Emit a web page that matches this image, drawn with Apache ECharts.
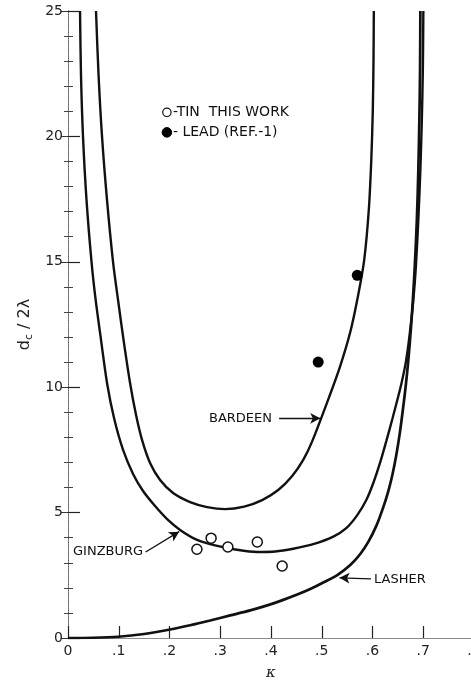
<!DOCTYPE html>
<html>
<head>
<meta charset="utf-8">
<script src="https://cdn.jsdelivr.net/npm/echarts@6/dist/echarts.min.js"></script>
<style>
html,body{margin:0;padding:0;background:#fff;}
#c{width:471px;height:682px;}
</style>
</head>
<body>
<div id="c"></div>
<script>
// ---- data (kappa, d_c/2lambda) ----
const xTicks = [0, 0.1, 0.2, 0.3, 0.4, 0.5, 0.6, 0.7, 0.8];
const yTicks = [0, 5, 10, 15, 20, 25];

const ginzburgK = [0.0237, 0.0256, 0.0296, 0.0365, 0.0464, 0.0545, 0.0651, 0.0769, 0.0907, 0.1085, 0.1282, 0.1479, 0.1716, 0.1953, 0.2209, 0.2544, 0.2899, 0.3294, 0.3728, 0.4083, 0.4438, 0.4832, 0.5227, 0.5483, 0.5700, 0.5878, 0.6016, 0.6154, 0.6272, 0.6391, 0.6489, 0.6568, 0.6647, 0.6706, 0.6765, 0.6805, 0.6854, 0.6903, 0.6943, 0.6972, 0.6992, 0.7002];
const ginzburgD = [25.0, 22.45, 19.98, 17.46, 14.99, 13.48, 11.88, 10.17, 8.77, 7.50, 6.54, 5.86, 5.26, 4.74, 4.31, 3.91, 3.69, 3.53, 3.43, 3.45, 3.56, 3.74, 4.04, 4.38, 4.90, 5.50, 6.18, 7.02, 7.85, 8.73, 9.49, 10.13, 10.89, 11.68, 12.68, 13.48, 14.79, 16.67, 18.66, 20.65, 22.65, 25.0];

const bardeenK = [0.0552, 0.0602, 0.0671, 0.0769, 0.0888, 0.0986, 0.1095, 0.1223, 0.1341, 0.1460, 0.1617, 0.1815, 0.2071, 0.2406, 0.2742, 0.3097, 0.3471, 0.3826, 0.4142, 0.4418, 0.4635, 0.4813, 0.5168, 0.5365, 0.5562, 0.5720, 0.5838, 0.5927, 0.5976, 0.6006, 0.6020, 0.6026];
const bardeenD = [25.0, 22.45, 19.98, 17.46, 14.99, 13.48, 11.88, 10.17, 8.89, 7.89, 6.98, 6.30, 5.78, 5.42, 5.22, 5.14, 5.24, 5.50, 5.90, 6.46, 7.10, 7.85, 9.73, 10.85, 12.20, 13.70, 15.10, 17.07, 19.06, 21.05, 23.05, 25.0];

const lasherK = [0, 0.0493, 0.0986, 0.1499, 0.2012, 0.2406, 0.2801, 0.3195, 0.3590, 0.3925, 0.4241, 0.4517, 0.4773, 0.5049, 0.5306, 0.5562, 0.5759, 0.5917, 0.6075, 0.6213, 0.6312, 0.6391, 0.6469, 0.6538, 0.6598, 0.6657, 0.6706, 0.6755, 0.6795, 0.6834, 0.6874, 0.6903, 0.6923, 0.6937, 0.6943];
const lasherD = [0, 0.01, 0.05, 0.16, 0.34, 0.51, 0.70, 0.90, 1.10, 1.30, 1.52, 1.73, 1.95, 2.23, 2.51, 2.91, 3.35, 3.83, 4.47, 5.22, 5.86, 6.50, 7.30, 8.17, 9.09, 10.09, 11.08, 12.28, 13.48, 14.87, 16.67, 18.66, 20.65, 22.65, 25.0];

const tinK = [0.254, 0.282, 0.315, 0.373, 0.422];
const tinD = [3.54, 3.98, 3.63, 3.83, 2.87];

const leadK = [0.493, 0.570];
const leadD = [11.0, 14.46];

const curveLabels = ['BARDEEN', 'GINZBURG', 'LASHER'];
const legendLabels = ['-TIN  THIS WORK', '- LEAD (REF.-1)'];

const zip = (a, b) => a.map((v, i) => [v, b[i]]);

const FONT = 'DejaVu Sans';
const chart = echarts.init(document.getElementById('c'), null, {renderer: 'canvas'});

const lineStyleC = {color: '#111', width: 2.4};

function arrowLine(from, to) {
  return {
    silent: true,
    symbol: ['none', 'arrow'],
    symbolSize: [8, 10],
    lineStyle: {color: '#111', width: 1.3, type: 'solid'},
    label: {show: false},
    emphasis: {disabled: true},
    data: [[{coord: from}, {coord: to}]]
  };
}

const option = {
  backgroundColor: '#fff',
  animation: false,
  grid: {left: 68, top: 11, width: 406, height: 627, containLabel: false, outerBoundsMode: 'none'},
  xAxis: [{
    type: 'value', min: 0, max: 0.8, interval: 0.1,
    name: 'κ', nameLocation: 'middle', nameGap: 28,
    nameTextStyle: {fontFamily: 'DejaVu Serif', fontStyle: 'italic', fontSize: 15, color: '#222'},
    axisLine: {show: true, lineStyle: {color: '#666', width: 1, type: 'dotted'}},
    axisTick: {show: true, inside: true, length: 12, lineStyle: {color: '#222', width: 1.2}},
    axisLabel: {fontFamily: FONT, fontSize: 14, color: '#222', margin: 6,
      formatter: v => v === 0 ? '0' : '.' + Math.round(v * 10)},
    splitLine: {show: false}
  }, {
    type: 'value', min: 0, max: 0.8, interval: 0.1, position: 'top',
    axisLine: {show: true, lineStyle: {color: '#888', width: 1, type: 'dotted'}},
    axisTick: {show: false}, axisLabel: {show: false}, splitLine: {show: false}
  }],
  yAxis: [{
    type: 'value', min: 0, max: 25, interval: 5,
    name: '{a|d}{s|c}{a| / 2λ}', nameLocation: 'middle', nameGap: 33,
    nameTextStyle: {fontFamily: FONT, fontSize: 16, color: '#222',
      rich: {a: {fontFamily: FONT, fontSize: 16, color: '#222'},
             s: {fontFamily: FONT, fontSize: 11, color: '#222', verticalAlign: 'bottom', padding: [7, 0, 0, 0]}}},
    axisLine: {show: true, lineStyle: {color: '#222', width: 1}},
    axisTick: {show: true, inside: true, length: 12, lineStyle: {color: '#222', width: 1.2}},
    minorTick: {show: true, splitNumber: 5, length: 5, lineStyle: {color: '#444', width: 1}},
    axisLabel: {fontFamily: FONT, fontSize: 14, color: '#222', margin: 5},
    splitLine: {show: false}
  }, {
    type: 'value', min: 0, max: 25, interval: 5, position: 'right',
    axisLine: {show: true, lineStyle: {color: '#888', width: 1, type: 'dotted'}},
    axisTick: {show: true, inside: true, length: 7, lineStyle: {color: '#333', width: 1}},
    minorTick: {show: true, splitNumber: 5, length: 4, lineStyle: {color: '#444', width: 1}},
    axisLabel: {show: false}, splitLine: {show: false}
  }],
  series: [
    {name: 'BARDEEN', type: 'line', data: zip(bardeenK, bardeenD), smooth: 0.3,
     showSymbol: false, symbol: 'none', lineStyle: lineStyleC, clip: true,
     markLine: arrowLine([0.416, 8.76], [0.497, 8.76])},
    {name: 'GINZBURG', type: 'line', data: zip(ginzburgK, ginzburgD), smooth: 0.3,
     showSymbol: false, symbol: 'none', lineStyle: lineStyleC, clip: true,
     markLine: arrowLine([0.153, 3.43], [0.219, 4.24])},
    {name: 'LASHER', type: 'line', data: zip(lasherK, lasherD), smooth: 0.3,
     showSymbol: false, symbol: 'none', lineStyle: {color: '#111', width: 2.7}, clip: true,
     markLine: arrowLine([0.597, 2.36], [0.535, 2.4])},
    {name: 'TIN', type: 'scatter', data: zip(tinK, tinD), symbol: 'circle', symbolSize: 10,
     itemStyle: {color: '#fff', borderColor: '#111', borderWidth: 1.5, opacity: 1}, z: 5},
    {name: 'LEAD', type: 'scatter', data: zip(leadK, leadD), symbol: 'circle', symbolSize: 11,
     itemStyle: {color: '#000', opacity: 1}, z: 5}
  ]
};
chart.setOption(option);

// annotations positioned in data space
const P = (k, d) => chart.convertToPixel({xAxisIndex: 0, yAxisIndex: 0}, [k, d]);
const txt = {fontFamily: FONT, fontSize: 13, fill: '#111'};
const txtL = {fontFamily: FONT, fontSize: 14, fill: '#111'};
const pb = P(0.402, 8.76), pg = P(0.148, 3.43), pl = P(0.603, 2.33);
const l1 = P(0.187, 20.96), l2 = P(0.187, 20.16);
chart.setOption({
  graphic: [
    {type: 'text', x: pb[0], y: pb[1], style: Object.assign({text: curveLabels[0], textAlign: 'right', textVerticalAlign: 'middle'}, txt)},
    {type: 'text', x: pg[0], y: pg[1], style: Object.assign({text: curveLabels[1], textAlign: 'right', textVerticalAlign: 'middle'}, txt)},
    {type: 'text', x: pl[0], y: pl[1], style: Object.assign({text: curveLabels[2], textAlign: 'left', textVerticalAlign: 'middle'}, txt)},
    {type: 'circle', shape: {cx: l1[0] + 4, cy: l1[1], r: 4.2}, style: {fill: '#fff', stroke: '#111', lineWidth: 1.2}},
    {type: 'text', x: l1[0] + 10, y: l1[1], style: Object.assign({text: legendLabels[0], textAlign: 'left', textVerticalAlign: 'middle'}, txtL)},
    {type: 'circle', shape: {cx: l2[0] + 4, cy: l2[1], r: 4.8}, style: {fill: '#000', stroke: '#000', lineWidth: 1}},
    {type: 'text', x: l2[0] + 10, y: l2[1], style: Object.assign({text: legendLabels[1], textAlign: 'left', textVerticalAlign: 'middle'}, txtL)}
  ]
});
</script>
</body>
</html>
